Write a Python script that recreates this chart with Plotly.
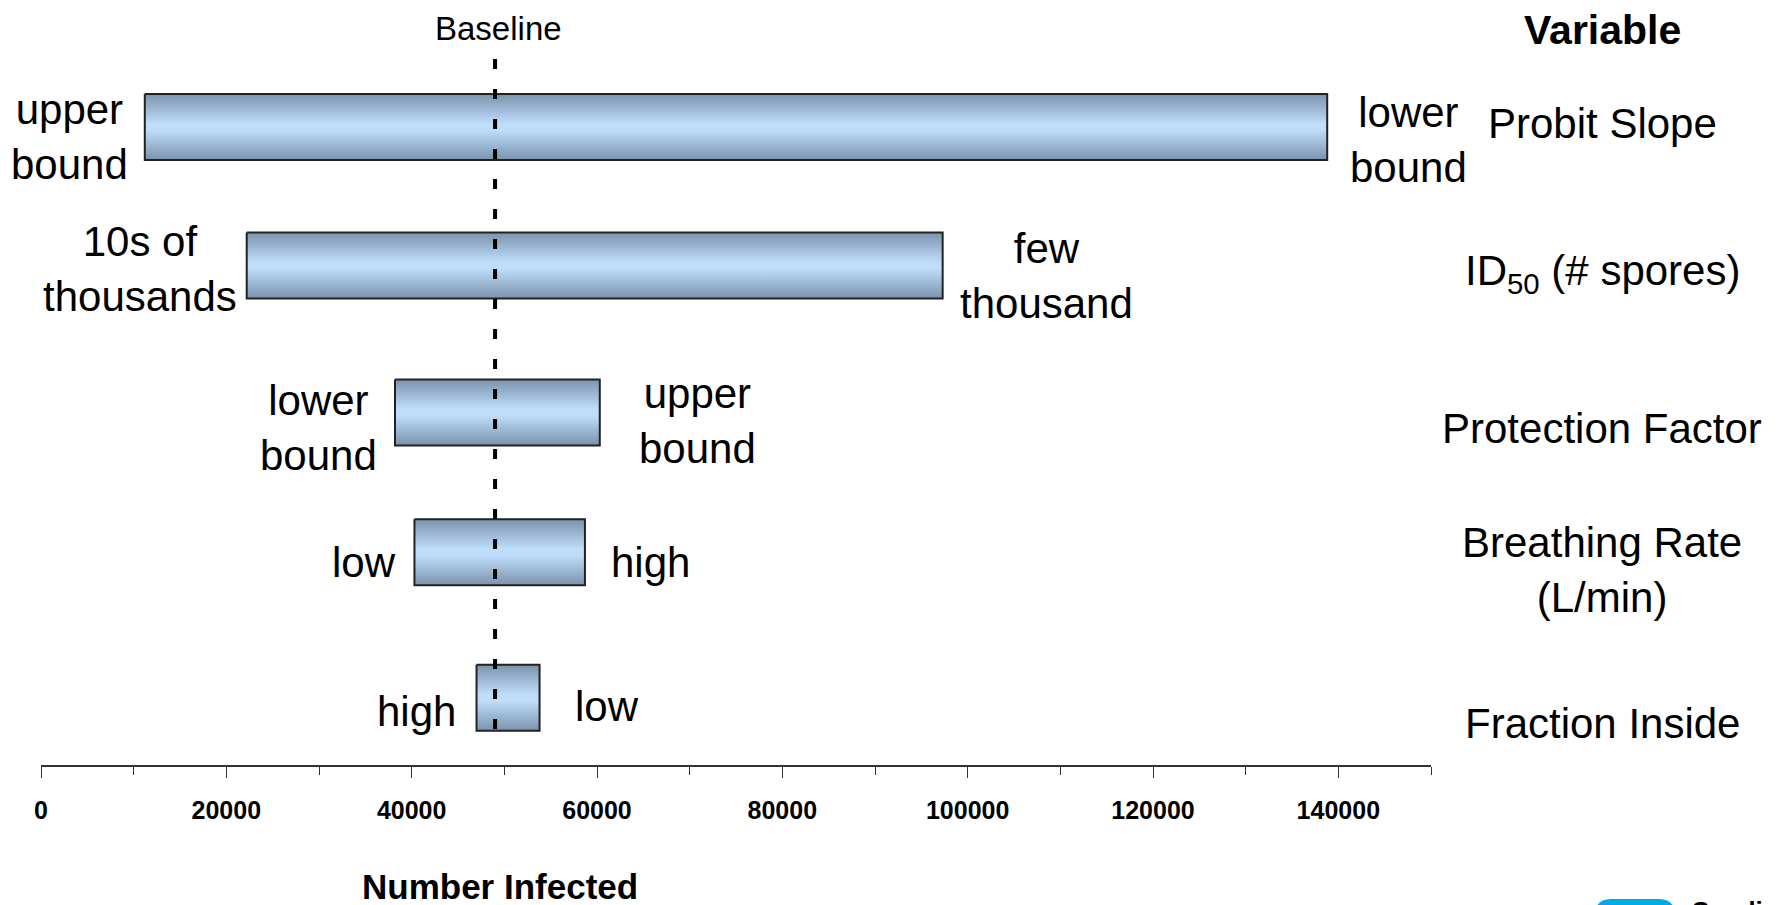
import plotly.graph_objects as go

# Tornado chart: sensitivity of the number infected to each input variable
variables = ["Probit Slope", "ID<sub>50</sub> (# spores)", "Protection Factor",
             "Breathing Rate<br>(L/min)", "Fraction Inside"]
low_end = [11200, 22200, 38200, 40300, 47000]
high_end = [138800, 97300, 60300, 58700, 53800]
low_labels = ["upper<br>bound", "10s of<br>thousands", "lower<br>bound", "low", "high"]
high_labels = ["lower<br>bound", "few<br>thousand", "upper<br>bound", "high", "low"]
baseline = 49000

x_ticks = [0, 20000, 40000, 60000, 80000, 100000, 120000, 140000]

FONT = "Liberation Sans, Arial, sans-serif"
W, H = 1782, 905
M_L, M_R, M_T, M_B = 41, 351, 20, 140
ROW0_PX, PITCH_PX = 127, 142.7          # pixel centre of first row, row spacing
BAR_HALF = 33 / PITCH_PX                  # half bar thickness in row units
ROW_NUDGE = [0, -0.03, 0, -0.02, 0]       # small per-row offsets of the bar centres


def row_at(px):
    return (px - ROW0_PX) / PITCH_PX


def paper_x(px):
    return (px - M_L) / (W - M_L - M_R)


def paper_y(px):
    return (H - M_B - px) / (H - M_T - M_B)


fig = go.Figure()

# Gradient-filled bars, one trace per variable
for i, (lo, hi) in enumerate(zip(low_end, high_end)):
    c = i + ROW_NUDGE[i]
    fig.add_trace(go.Scatter(
        x=[lo, hi, hi, lo, lo],
        y=[c - BAR_HALF, c - BAR_HALF, c + BAR_HALF, c + BAR_HALF, c - BAR_HALF],
        mode="lines", fill="toself",
        fillgradient=dict(type="vertical",
                          colorscale=[[0, "#7a93ad"], [0.45, "#bfdcf9"],
                                      [0.55, "#bfdcf9"], [1, "#7a93ad"]]),
        line=dict(color="#222222", width=2),
        showlegend=False, hoverinfo="skip",
    ))

# Dashed baseline
fig.add_trace(go.Scatter(
    x=[baseline, baseline], y=[row_at(59), row_at(748)],
    mode="lines", line=dict(color="black", width=4, dash="10px,20px"),
    showlegend=False, hoverinfo="skip",
))

annotations = []
label_font = dict(family=FONT, size=42, color="black")

# End labels next to each bar
low_xshift = [-15, -8, -16, -16, -19]
low_yshift = [-10, 1, -16, -7, -14]
high_xshift = [21, 15, 37, 24, 33]
high_yshift = [-13, -6, -9, -7, -9]
for i in range(len(variables)):
    annotations.append(dict(x=low_end[i], y=i, xref="x", yref="y", text=low_labels[i],
                            showarrow=False, xanchor="right", yanchor="middle", align="center",
                            xshift=low_xshift[i], yshift=low_yshift[i], font=label_font))
    annotations.append(dict(x=high_end[i], y=i, xref="x", yref="y", text=high_labels[i],
                            showarrow=False, xanchor="left", yanchor="middle", align="center",
                            xshift=high_xshift[i], yshift=high_yshift[i], font=label_font))

# Variable names on the right
var_yshift = [4, -4, -16, -15, -26]
for i, name in enumerate(variables):
    annotations.append(dict(x=paper_x(1602), y=i, xref="paper", yref="y", text=name,
                            showarrow=False, xanchor="center", yanchor="middle", align="center",
                            yshift=var_yshift[i], font=label_font))

annotations.append(dict(x=paper_x(1602), y=paper_y(30), xref="paper", yref="paper",
                        text="<b>Variable</b>", showarrow=False, xanchor="center",
                        yanchor="middle", font=dict(family=FONT, size=41, color="black")))
annotations.append(dict(x=baseline, y=paper_y(28), xref="x", yref="paper", text="Baseline",
                        showarrow=False, xanchor="center", yanchor="middle", xshift=3,
                        font=dict(family=FONT, size=33, color="black")))
annotations.append(dict(x=paper_x(500), y=paper_y(886), xref="paper", yref="paper",
                        text="<b>Number Infected</b>", showarrow=False, xanchor="center",
                        yanchor="middle", font=dict(family=FONT, size=35, color="black")))

# Logo fragment at the bottom edge
annotations.append(dict(x=paper_x(1690), y=paper_y(894), xref="paper", yref="paper",
                        text="<b>Sandia</b>", showarrow=False, xanchor="left", yanchor="top",
                        font=dict(family=FONT, size=26, color="black")))

x0, x1 = paper_x(1595), paper_x(1675)
y0, y1 = paper_y(940), paper_y(899)
rx, ry = 16 / (W - M_L - M_R), 16 / (H - M_T - M_B)
logo_path = (f"M {x0},{y0} L {x0},{y1 - ry} Q {x0},{y1} {x0 + rx},{y1} "
             f"L {x1 - rx},{y1} Q {x1},{y1} {x1},{y1 - ry} L {x1},{y0} Z")

fig.update_layout(
    width=W, height=H,
    margin=dict(l=M_L, r=M_R, t=M_T, b=M_B),
    paper_bgcolor="white", plot_bgcolor="white",
    annotations=annotations,
    shapes=[dict(type="path", path=logo_path, xref="paper", yref="paper",
                 fillcolor="#00a9e8", line=dict(width=0), layer="above")],
    xaxis=dict(
        range=[0, 150000], tickvals=x_ticks, ticktext=[str(v) for v in x_ticks],
        showline=True, linecolor="#333333", linewidth=1.5,
        ticks="outside", ticklen=11, tickwidth=1.2, tickcolor="#333333",
        ticklabelstandoff=11,
        tickfont=dict(family=FONT, size=25, color="black", weight="bold"),
        minor=dict(dtick=10000, tick0=0, ticks="outside", ticklen=8,
                   tickwidth=1.2, tickcolor="#333333"),
        showgrid=False, zeroline=False, fixedrange=True,
    ),
    yaxis=dict(range=[row_at(H - M_B), row_at(M_T)], visible=False,
               showgrid=False, zeroline=False, fixedrange=True),
)

fig.write_html("out.html")
